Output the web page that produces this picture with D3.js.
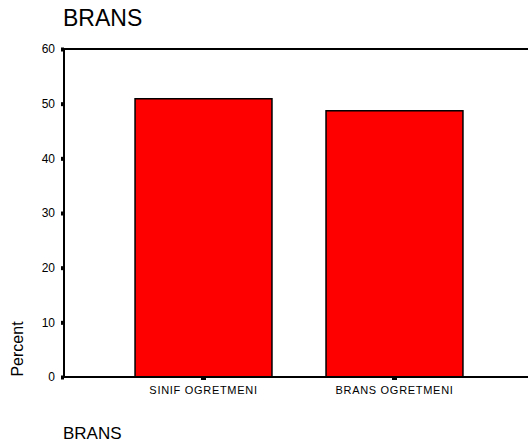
<!DOCTYPE html>
<html>
<head>
<meta charset="utf-8">
<script src="https://cdn.jsdelivr.net/npm/d3@7"></script>
<style>
  body { margin: 0; background: #fff; }
  svg { display: block; font-family: Arial, "Liberation Sans", sans-serif; }
</style>
</head>
<body>
<div id="chart"></div>
<script>
var categories = ["SINIF OGRETMENI", "BRANS OGRETMENI"];
var percents = [50.9, 48.7];
var yTicks = [0, 10, 20, 30, 40, 50, 60];

var width = 528, height = 444;
var plotLeft = 64, plotTop = 49, plotBottom = 377;

var svg = d3.select("#chart").append("svg")
  .attr("width", width)
  .attr("height", height);

var x = d3.scaleBand()
  .domain(categories)
  .range([plotLeft, 534])
  .paddingInner(0.283)
  .paddingOuter(0.372);

var y = d3.scaleLinear()
  .domain([0, 60])
  .range([plotBottom, plotTop]);

// title
svg.append("text")
  .attr("x", 63)
  .attr("y", 26)
  .style("font-size", "23px")
  .text("BRANS");

// bars
svg.selectAll("rect.bar")
  .data(percents)
  .enter().append("rect")
  .attr("class", "bar")
  .attr("x", function (d, i) { return x(categories[i]); })
  .attr("width", x.bandwidth())
  .attr("y", function (d) { return y(d); })
  .attr("height", function (d) { return y(0) - y(d); })
  .attr("fill", "#ff0000")
  .attr("stroke", "#000")
  .attr("stroke-width", 1.5);

// y axis
var yAxis = svg.append("g")
  .attr("transform", "translate(" + plotLeft + ",0)")
  .call(d3.axisLeft(y).tickValues(yTicks).tickSize(3).tickPadding(6));
yAxis.select(".domain").remove();
yAxis.selectAll(".tick line").attr("stroke-width", 4);
yAxis.selectAll(".tick text")
  .style("font-size", "12px")
  .style("font-family", "Arial, 'Liberation Sans', sans-serif");

// x axis
var xAxis = svg.append("g")
  .attr("transform", "translate(0," + plotBottom + ")")
  .call(d3.axisBottom(x).tickSize(3).tickPadding(6));
xAxis.select(".domain").remove();
xAxis.selectAll(".tick line").attr("stroke-width", 5);
xAxis.selectAll(".tick text")
  .attr("dy", "0.71em")
  .style("font-size", "11px")
  .style("letter-spacing", "0.7px")
  .style("font-family", "Arial, 'Liberation Sans', sans-serif");

// frame: left, top and bottom lines
svg.append("path")
  .attr("d", "M" + width + "," + plotTop + "H" + plotLeft + "V" + plotBottom + "H" + width)
  .attr("fill", "none")
  .attr("stroke", "#000")
  .attr("stroke-width", 2);

// y axis title
svg.append("text")
  .attr("transform", "translate(23,349) rotate(-90)")
  .attr("text-anchor", "middle")
  .style("font-size", "16px")
  .text("Percent");

// x axis title
svg.append("text")
  .attr("x", 63)
  .attr("y", 439)
  .style("font-size", "17px")
  .text("BRANS");
</script>
</body>
</html>
